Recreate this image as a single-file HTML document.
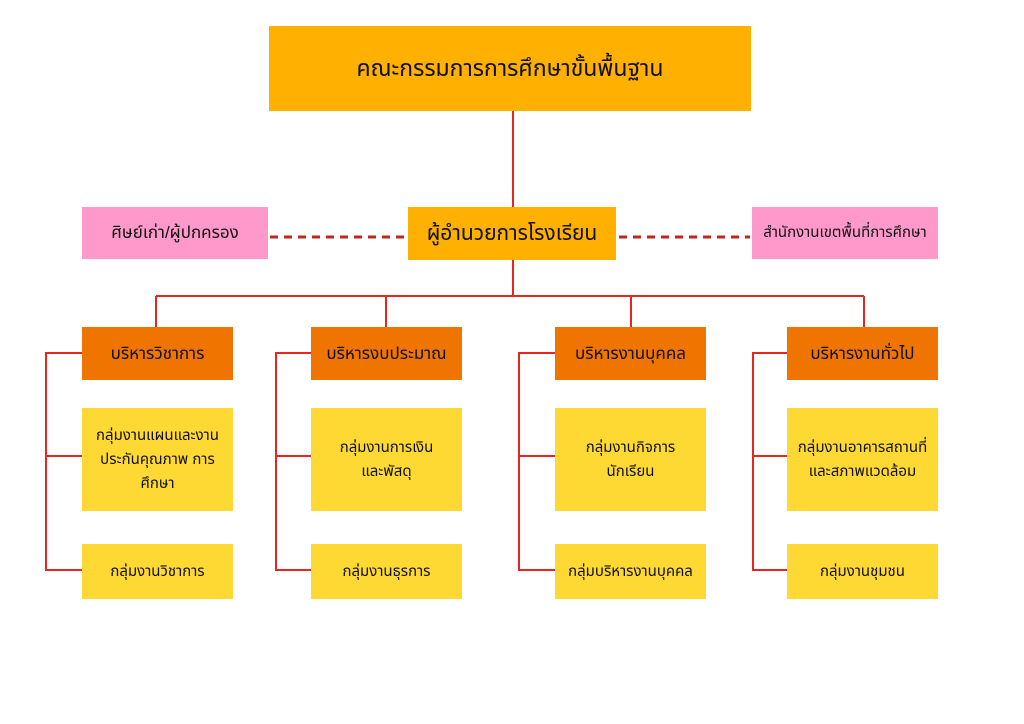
<!DOCTYPE html>
<html><head><meta charset="utf-8"><style>
body{margin:0;width:1024px;height:724px;background:#fff;position:relative;overflow:hidden;font-family:"Liberation Sans","Noto Sans Thai","Loma","Garuda",sans-serif;color:#111}
.b{position:absolute;display:flex;align-items:center;justify-content:center;text-align:center;line-height:1.6;box-sizing:border-box}
.top{background:#FFB000;}
.pk{background:#FF99CC;font-size:17px}
.or{background:#F07500;font-size:17px}
.ye{background:#FFD933;font-size:15px;padding:0 4px}
svg{position:absolute;left:0;top:0}
</style></head><body>
<svg width="1024" height="724">
<g stroke="#E8251E" stroke-width="2" fill="none">
<path d="M513 111V207M513 260V296M156 296H864M156 296V327M386 296V327M631 296V327M864 296V327"/>
<path d="M82 353H46V570H82M46 456H82"/>
<path d="M311 353H276V570H311M276 456H311"/>
<path d="M555 353H519V570H555M519 456H555"/>
<path d="M787 353H753V570H787M753 456H787"/>
</g>
<g stroke="#C0261A" stroke-width="3" stroke-dasharray="8 6">
<path d="M270 237H406M619 237H750"/>
</g>
</svg>
<div class="b top" style="left:269px;top:26px;width:482px;height:85px;font-size:23px">คณะกรรมการการศึกษาขั้นพื้นฐาน</div>
<div class="b top" style="left:408px;top:207px;width:208px;height:53px;font-size:21px">ผู้อำนวยการโรงเรียน</div>
<div class="b pk" style="left:82px;top:207px;width:186px;height:52px">ศิษย์เก่า/ผู้ปกครอง</div>
<div class="b pk" style="left:752px;top:207px;width:186px;height:52px;font-size:15px">สำนักงานเขตพื้นที่การศึกษา</div>

<div class="b or" style="left:82px;top:327px;width:151px;height:53px">บริหารวิชาการ</div>
<div class="b or" style="left:311px;top:327px;width:151px;height:53px">บริหารงบประมาณ</div>
<div class="b or" style="left:555px;top:327px;width:151px;height:53px">บริหารงานบุคคล</div>
<div class="b or" style="left:787px;top:327px;width:151px;height:53px">บริหารงานทั่วไป</div>

<div class="b ye" style="left:82px;top:408px;width:151px;height:103px">กลุ่มงานแผนและงาน<br>ประกันคุณภาพ การ<br>ศึกษา</div>
<div class="b ye" style="left:311px;top:408px;width:151px;height:103px">กลุ่มงานการเงิน<br>และพัสดุ</div>
<div class="b ye" style="left:555px;top:408px;width:151px;height:103px">กลุ่มงานกิจการ<br>นักเรียน</div>
<div class="b ye" style="left:787px;top:408px;width:151px;height:103px">กลุ่มงานอาคารสถานที่<br>และสภาพแวดล้อม</div>

<div class="b ye" style="left:82px;top:544px;width:151px;height:55px">กลุ่มงานวิชาการ</div>
<div class="b ye" style="left:311px;top:544px;width:151px;height:55px">กลุ่มงานธุรการ</div>
<div class="b ye" style="left:555px;top:544px;width:151px;height:55px">กลุ่มบริหารงานบุคคล</div>
<div class="b ye" style="left:787px;top:544px;width:151px;height:55px">กลุ่มงานชุมชน</div>
</body></html>
